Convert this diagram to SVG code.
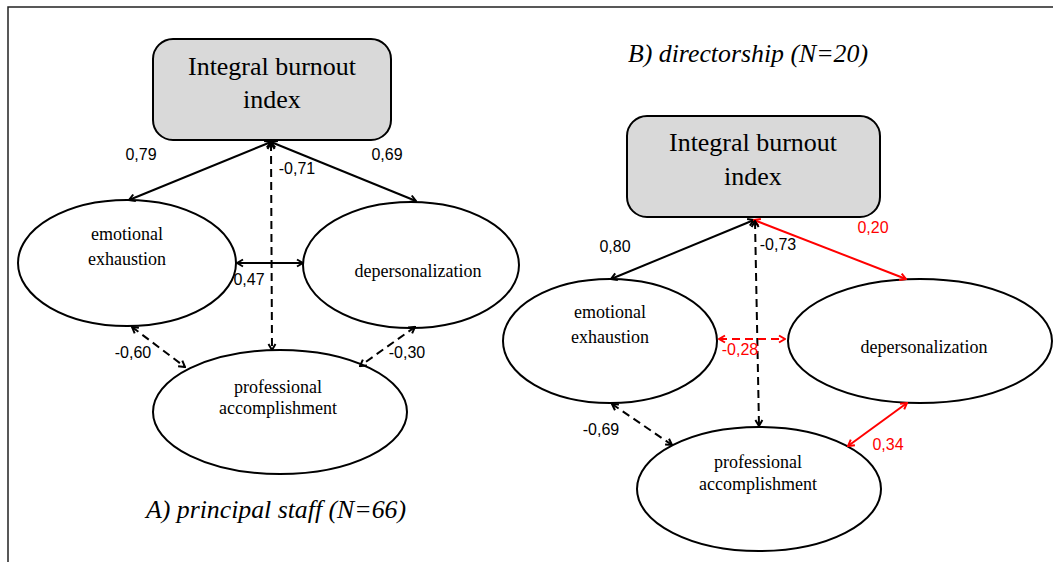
<svg xmlns="http://www.w3.org/2000/svg" width="1053" height="562" viewBox="0 0 1053 562">
<style>
.box{fill:#d9d9d9;stroke:#000;stroke-width:2}
.ell{fill:#fff;stroke:#000;stroke-width:2}
.bt{font-family:"Liberation Serif",serif;font-size:26px;fill:#000;text-anchor:middle}
.nt{font-family:"Liberation Serif",serif;font-size:18px;fill:#000;text-anchor:middle}
.num{font-family:"Liberation Sans",Arial,sans-serif;font-size:16px;fill:#000;text-anchor:middle}
.red{fill:#f00}
.ttl{font-family:"Liberation Serif",serif;font-size:26px;font-style:italic;fill:#000}
.c{fill:none;stroke:#000;stroke-width:2;marker-start:url(#ab);marker-end:url(#ab)}
.cr{fill:none;stroke:#f00;stroke-width:2;marker-start:url(#ar);marker-end:url(#ar)}
.d{stroke-dasharray:8 5}
</style>
<defs>
<marker id="ab" viewBox="0 0 10 10" refX="9" refY="5" markerWidth="10" markerHeight="10" markerUnits="userSpaceOnUse" orient="auto-start-reverse">
<path d="M3,1.5 L9,5 L3,8.5" fill="none" stroke="#000" stroke-width="2" stroke-dasharray="none"/>
</marker>
<marker id="ar" viewBox="0 0 10 10" refX="9" refY="5" markerWidth="10" markerHeight="10" markerUnits="userSpaceOnUse" orient="auto-start-reverse">
<path d="M3,1.5 L9,5 L3,8.5" fill="none" stroke="#f00" stroke-width="2" stroke-dasharray="none"/>
</marker>
</defs>
<rect width="1053" height="562" fill="#fff"/>
<g id="frame">
<path d="M8,562 V7 H1053" fill="none" stroke="#222" stroke-width="1.5"/>
</g>

<g id="A-index">
<rect class="box" x="153" y="39" width="238" height="101" rx="20"/>
<text class="bt" x="272" y="75" textLength="168" lengthAdjust="spacingAndGlyphs">Integral burnout</text>
<text class="bt" x="272" y="108">index</text>
</g>
<g id="A-emotional">
<ellipse class="ell" cx="127" cy="263" rx="109" ry="63"/>
<text class="nt" x="127" y="240">emotional</text>
<text class="nt" x="127" y="265">exhaustion</text>
</g>
<g id="A-depersonalization">
<ellipse class="ell" cx="411" cy="265" rx="108" ry="63"/>
<text class="nt" x="418" y="277">depersonalization</text>
</g>
<g id="A-professional">
<ellipse class="ell" cx="280" cy="412" rx="127" ry="62"/>
<text class="nt" x="278" y="393">professional</text>
<text class="nt" x="278" y="414">accomplishment</text>
</g>

<g id="B-index">
<rect class="box" x="627" y="116" width="253" height="101" rx="20"/>
<text class="bt" x="753" y="151" textLength="168" lengthAdjust="spacingAndGlyphs">Integral burnout</text>
<text class="bt" x="753" y="185">index</text>
</g>
<g id="B-emotional">
<ellipse class="ell" cx="610" cy="341" rx="107" ry="62"/>
<text class="nt" x="610" y="318">emotional</text>
<text class="nt" x="610" y="343">exhaustion</text>
</g>
<g id="B-depersonalization">
<ellipse class="ell" cx="920" cy="341" rx="132" ry="62"/>
<text class="nt" x="924" y="353">depersonalization</text>
</g>
<g id="B-professional">
<ellipse class="ell" cx="759" cy="489" rx="122" ry="62"/>
<text class="nt" x="758" y="468">professional</text>
<text class="nt" x="758" y="490">accomplishment</text>
</g>

<g id="connectors">
<line class="c" x1="271" y1="142" x2="129" y2="200"/>
<line class="c" x1="271" y1="142" x2="416" y2="201"/>
<line class="c d" x1="271" y1="143" x2="272" y2="350"/>
<line class="c" x1="237" y1="263" x2="303" y2="263"/>
<line class="c d" x1="132" y1="327" x2="185" y2="367"/>
<line class="c d" x1="415" y1="327" x2="360" y2="366"/>

<line class="c" x1="754" y1="220" x2="611" y2="279"/>
<line class="cr" x1="754" y1="220" x2="906" y2="279"/>
<line class="c d" x1="755" y1="221" x2="759" y2="426"/>
<line class="cr d" x1="719" y1="339" x2="785" y2="339"/>
<line class="c d" x1="612" y1="404" x2="672" y2="445"/>
<line class="cr" x1="907" y1="403" x2="848" y2="446"/>
</g>

<g id="labels">
<text class="num" x="141" y="160">0,79</text>
<text class="num" x="387" y="160">0,69</text>
<text class="num" x="297" y="174">-0,71</text>
<text class="num" x="249" y="285">0,47</text>
<text class="num" x="133" y="358">-0,60</text>
<text class="num" x="407" y="358">-0,30</text>

<text class="num" x="615" y="252">0,80</text>
<text class="num" x="778" y="250">-0,73</text>
<text class="num red" x="873" y="233">0,20</text>
<text class="num red" x="740" y="355">-0,28</text>
<text class="num" x="601" y="435">-0,69</text>
<text class="num red" x="888" y="450">0,34</text>
</g>

<g id="titles">
<text class="ttl" x="146" y="518" textLength="260" lengthAdjust="spacingAndGlyphs">A) principal staff (N=66)</text>
<text class="ttl" x="628" y="62" textLength="240" lengthAdjust="spacingAndGlyphs">B) directorship (N=20)</text>
</g>
</svg>
